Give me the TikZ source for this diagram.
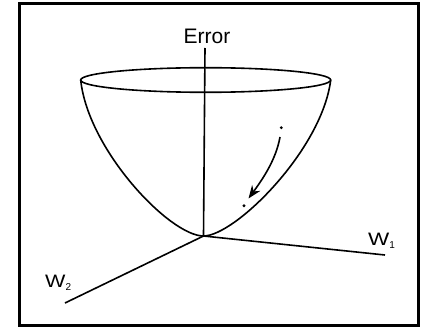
\documentclass[tikz,border=0pt]{standalone}
\usepackage{fontspec}
\setmainfont{Liberation Sans}
\usetikzlibrary{arrows.meta}
\begin{document}
\begin{tikzpicture}[x=1pt,y=-1pt,
  curve/.style={line width=1.6pt,line cap=round},
  axis/.style={line width=1.6pt},
  lbl/.style={inner sep=0pt,anchor=base west,font=\fontsize{18}{20}\selectfont},
  dotmark/.style={fill=black,draw=none}]
\useasboundingbox (0,0) rectangle (421,329);
\draw[line width=2.2pt] (19.5,3.5) rectangle (418.5,325.5);
% axes
\coordinate (O) at (203.5,236);
\coordinate (ztop) at (205,48);
\coordinate (w1end) at (385,255);
\coordinate (w2end) at (65,303);
\draw[axis] (O) -- (ztop);
\draw[axis] (O) -- (w1end);
\draw[axis] (O) -- (w2end);
\node[inner sep=0pt,anchor=base,font=\fontsize{21}{25}\selectfont] (err) at (207,44) {Error};
\node[lbl] (w1) at (368,245) {\scalebox{1.25}[1]{W}\raisebox{-3pt}{\fontsize{10}{11}\selectfont 1}};
\node[lbl] (w2) at (45,287.5) {\scalebox{1.2}[1]{W}\raisebox{-3pt}{\fontsize{10}{11}\selectfont 2}};
% bowl
\draw[curve] (205.7,80) ellipse [x radius=125, y radius=12.3];
\coordinate (L) at (80.7,80);
\coordinate (R) at (330.7,80);
\draw[curve] (L) .. controls (88,150) and (170,236) .. (O);
\draw[curve] (R) .. controls (322,150) and (235,236) .. (O);
% descent arrow
\coordinate (a0) at (280,137);
\coordinate (a1) at (248.5,198.5);
\draw[line width=1.6pt,-{Stealth[length=13pt,width=10pt]}] (a0) .. controls (276,160) and (262,180) .. (a1);
\fill[dotmark] (281.3,127.7) circle (1.6);
\fill[dotmark] (244,205.7) circle (1.6);
\end{tikzpicture}
\end{document}
